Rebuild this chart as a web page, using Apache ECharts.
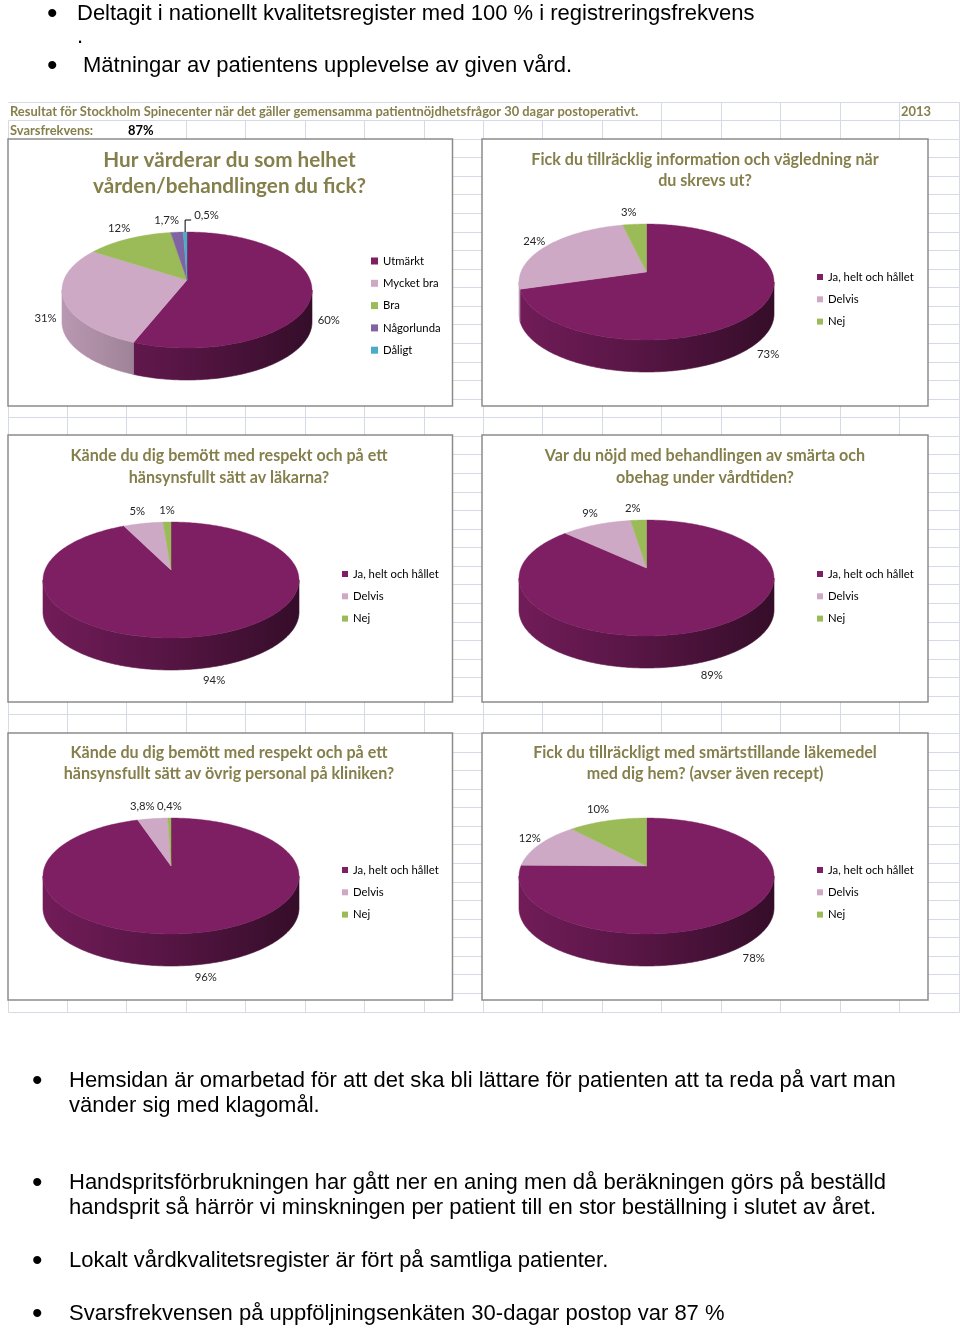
<!DOCTYPE html>
<html><head><meta charset="utf-8">
<script src="https://cdn.jsdelivr.net/npm/echarts@6/dist/echarts.min.js"></script>
<style>
html,body{margin:0;padding:0;background:#fff;width:960px;height:1326px;overflow:hidden}
#chart{position:absolute;left:0;top:0;width:960px;height:1326px}
.b{position:absolute;font-family:"Liberation Sans",Arial,sans-serif;font-size:22px;line-height:25px;color:#000;white-space:nowrap;z-index:10}
.d{font-size:30px}
</style></head><body>
<div id="chart"></div>
<div class="b d" style="left:47px;top:0px">•</div>
<div class="b" style="left:77px;top:0px">Deltagit i nationellt kvalitetsregister med 100 % i registreringsfrekvens</div>
<div class="b" style="left:77px;top:23px">.</div>
<div class="b d" style="left:47px;top:52px">•</div>
<div class="b" style="left:83px;top:52px">Mätningar av patientens upplevelse av given vård.</div>

<div class="b d" style="left:32px;top:1067px">•</div>
<div class="b" style="left:69px;top:1067px">Hemsidan är omarbetad för att det ska bli lättare för patienten att ta reda på vart man<br>vänder sig med klagomål.</div>
<div class="b d" style="left:32px;top:1169px">•</div>
<div class="b" style="left:69px;top:1169px">Handspritsförbrukningen har gått ner en aning men då beräkningen görs på beställd<br>handsprit så härrör vi minskningen per patient till en stor beställning i slutet av året.</div>
<div class="b d" style="left:32px;top:1247px">•</div>
<div class="b" style="left:69px;top:1247px">Lokalt vårdkvalitetsregister är fört på samtliga patienter.</div>
<div class="b d" style="left:32px;top:1300px">•</div>
<div class="b" style="left:69px;top:1300px">Svarsfrekvensen på uppföljningsenkäten 30-dagar postop var 87 %</div>

<script>
// ---------------- data ----------------
const headerText = 'Resultat för Stockholm Spinecenter när det gäller gemensamma patientnöjdhetsfrågor 30 dagar postoperativt.';
const yearText = '2013';
const responseLabel = 'Svarsfrekvens:';
const responseRate = '87%';

const titles = [
  'Hur värderar du som helhet\nvården/behandlingen du fick?',
  'Fick du tillräcklig information och vägledning när\ndu skrevs ut?',
  'Kände du dig bemött med respekt och på ett\nhänsynsfullt sätt av läkarna?',
  'Var du nöjd med behandlingen av smärta och\nobehag under vårdtiden?',
  'Kände du dig bemött med respekt och på ett\nhänsynsfullt sätt av övrig personal på kliniken?',
  'Fick du tillräckligt med smärtstillande läkemedel\nmed dig hem? (avser även recept)'
];
const ratingCats = ['Utmärkt', 'Mycket bra', 'Bra', 'Någorlunda', 'Dåligt'];
const yesNoCats = ['Ja, helt och hållet', 'Delvis', 'Nej'];
const q1Values = [60, 31, 12, 1.7, 0.5];
const q2Values = [73, 24, 3];
const q3Values = [94, 5, 1];
const q4Values = [89, 9, 2];
const q5Values = [96, 3.8, 0.4];
const q6Values = [78, 12, 10];

// ---------------- style / layout ----------------
const FONT = "Lato, 'Liberation Sans', sans-serif";
const OLIVE = '#857f4c';
const catColors = {
  'Utmärkt': '#7d1f62', 'Mycket bra': '#cda9c5', 'Bra': '#9bbb59', 'Någorlunda': '#8064a2', 'Dåligt': '#4bacc6',
  'Ja, helt och hållet': '#7d1f62', 'Delvis': '#cda9c5', 'Nej': '#9bbb59'
};
const RY = 58, DEPTH = 32, APEX = -10;
const panels = [
  {cats: ratingCats, values: q1Values, box: [8, 139, 452.5, 406], cx: 187, cy: 290, rx: 125, tx: 229.5, ty: 173, big: true, lx: 371, ly: 254.5, mk: 7, leader: 4},
  {cats: yesNoCats, values: q2Values, box: [482, 139, 928, 406], cx: 646.5, cy: 282, rx: 127.5, tx: 705, ty: 170.5, lx: 817, ly: 270.5, mk: 6},
  {cats: yesNoCats, values: q3Values, box: [8, 435, 452.5, 702], cx: 171, cy: 580, rx: 128, tx: 229, ty: 467, lx: 342, ly: 567.5, mk: 6},
  {cats: yesNoCats, values: q4Values, box: [482, 435, 928, 702], cx: 646.5, cy: 578, rx: 127.5, tx: 705, ty: 467, lx: 817, ly: 567.5, mk: 6},
  {cats: yesNoCats, values: q5Values, box: [8, 733, 452.5, 1000], cx: 171, cy: 876, rx: 128, tx: 229, ty: 763.5, lx: 342, ly: 863.5, mk: 6},
  {cats: yesNoCats, values: q6Values, box: [482, 733, 928, 1000], cx: 646.5, cy: 876, rx: 127.5, tx: 705, ty: 763.5, lx: 817, ly: 863.5, mk: 6}
];

const mctx = document.createElement('canvas').getContext('2d');
function fitSize(text, weight, target) {
  mctx.font = weight + ' 100px ' + FONT;
  return Math.round(1000 * target / mctx.measureText(text).width) / 10;
}
const bigTitleSize = fitSize('Hur värderar du som helhet', 'bold', 253);
const titleSize = fitSize('Fick du tillräcklig information och vägledning när', 'bold', 348);
const headerSize = fitSize(headerText, 'bold', 628);
const legendSize = fitSize('Ja, helt och hållet', 'normal', 86);

function shade(hex, f) {
  const n = parseInt(hex.slice(1), 16);
  return 'rgb(' + Math.round(((n >> 16) & 255) * f) + ',' + Math.round(((n >> 8) & 255) * f) + ',' + Math.round((n & 255) * f) + ')';
}
function txtStyle(o) {
  if (o.align) o.textAlign = o.align;
  if (o.verticalAlign) o.textVerticalAlign = o.verticalAlign;
  return o;
}

function makeRender(p, i) {
  return function (params, api) {
    const values = p.values;
    const total = values.reduce((s, v) => s + v, 0);
    let before = 0;
    for (let k = 0; k < i; k++) before += values[k];
    const v = api.value(0);
    const TAU = Math.PI * 2;
    const a0 = before / total * TAU, a1 = (before + v) / total * TAU;
    const P = (t, dy) => [p.cx + p.rx * Math.sin(t), p.cy - RY * Math.cos(t) + (dy || 0)];
    const arc = (s, e, dy) => {
      const n = Math.max(2, Math.ceil(Math.abs(e - s) / (Math.PI / 180)) + 1);
      const pts = [];
      for (let j = 0; j < n; j++) pts.push(P(s + (e - s) * j / (n - 1), dy));
      return pts;
    };
    const color = catColors[p.cats[i]];
    const children = [];
    const fa = Math.max(a0, Math.PI / 2), fb = Math.min(a1, Math.PI * 1.5);
    if (fb > fa) {
      const grad = new echarts.graphic.LinearGradient(p.cx - p.rx, 0, p.cx + p.rx, 0, [
        {offset: 0, color: shade(color, 0.9)},
        {offset: 0.5, color: shade(color, 0.68)},
        {offset: 1, color: shade(color, 0.42)}
      ], true);
      children.push({type: 'polygon', shape: {points: arc(fa, fb, 0).concat(arc(fb, fa, DEPTH))},
        style: {fill: grad, stroke: grad, lineWidth: 0.6}});
    }
    children.push({type: 'polygon', shape: {points: [[p.cx, p.cy + APEX]].concat(arc(a0, a1, 0))},
      style: {fill: color, stroke: color, lineWidth: 0.4}});

    const m = (a0 + a1) / 2, s = Math.sin(m), c = Math.cos(m);
    const txt = String(v).replace('.', ',') + '%';
    const ex = p.cx + p.rx * s, ey = p.cy - RY * c;
    if (p.leader === i) {
      children.push({type: 'polyline', shape: {points: [[ex, ey], [ex, ey - 12], [ex + 6, ey - 12]]},
        style: {stroke: '#000', lineWidth: 1, fill: 'none'}});
      children.push({type: 'text', x: ex + 9, y: ey - 17,
        style: txtStyle({text: txt, fill: '#262626', fontSize: legendSize, fontFamily: FONT, align: 'left', verticalAlign: 'middle'})});
    } else {
      const front = Math.max(0, -c);
      let lx;
      if (s > 0.05) lx = ex + 4 + 22 * front * s;
      else if (s < -0.05) lx = ex + (c < 0 ? -8 : 2);
      else lx = ex;
      const ly = p.cy - (RY + 12) * c + DEPTH * Math.sqrt(front);
      const align = s > 0.05 ? 'left' : (s < -0.05 ? 'right' : 'center');
      children.push({type: 'text', x: lx, y: ly,
        style: txtStyle({text: txt, fill: '#262626', fontSize: legendSize, fontFamily: FONT, align: align, verticalAlign: 'middle'})});
    }
    return {type: 'group', children: children};
  };
}

// ---------------- graphic: sheet grid, panels, texts ----------------
const graphics = [];
const GRID = '#d5dae4';
const colX = [], rowY = [];
for (let k = 0; k <= 16; k++) colX.push(Math.round(7.5 + k * 59.44) + 0.5);
for (let k = 0; k <= 49; k++) rowY.push(Math.round(101.6 + k * 18.57) + 0.5);
rowY.forEach(y => graphics.push({type: 'line', z: 0, silent: true, shape: {x1: colX[0], y1: y, x2: colX[16], y2: y}, style: {stroke: GRID, lineWidth: 1}}));
colX.forEach(x => {
  if (x > 645) graphics.push({type: 'line', z: 0, silent: true, shape: {x1: x, y1: rowY[0], x2: x, y2: rowY[1]}, style: {stroke: GRID, lineWidth: 1}});
  if (x > 150 || x < 10) graphics.push({type: 'line', z: 0, silent: true, shape: {x1: x, y1: rowY[1], x2: x, y2: rowY[2]}, style: {stroke: GRID, lineWidth: 1}});
  graphics.push({type: 'line', z: 0, silent: true, shape: {x1: x, y1: rowY[2], x2: x, y2: rowY[49]}, style: {stroke: GRID, lineWidth: 1}});
});
graphics.push({type: 'text', z: 3, x: 10, y: 112, style: txtStyle({text: headerText, fill: OLIVE, fontSize: headerSize, fontWeight: 'bold', fontFamily: FONT, align: 'left', verticalAlign: 'middle'})});
graphics.push({type: 'text', z: 3, x: 901, y: 112, style: txtStyle({text: yearText, fill: OLIVE, fontSize: headerSize, fontWeight: 'bold', fontFamily: FONT, align: 'left', verticalAlign: 'middle'})});
graphics.push({type: 'text', z: 3, x: 10, y: 131, style: txtStyle({text: responseLabel, fill: OLIVE, fontSize: headerSize, fontWeight: 'bold', fontFamily: FONT, align: 'left', verticalAlign: 'middle'})});
graphics.push({type: 'text', z: 3, x: 128, y: 131, style: txtStyle({text: responseRate, fill: '#000', fontSize: headerSize, fontWeight: 'bold', fontFamily: FONT, align: 'left', verticalAlign: 'middle'})});

panels.forEach((p, pi) => {
  const b = p.box;
  graphics.push({type: 'rect', z: 1, silent: true, shape: {x: b[0], y: b[1], width: b[2] - b[0], height: b[3] - b[1]},
    style: {fill: '#fff', stroke: '#8c8c8c', lineWidth: 1.5}});
  graphics.push({type: 'text', z: 3, x: p.tx, y: p.ty, style: txtStyle({text: titles[pi], fill: OLIVE,
    fontSize: p.big ? bigTitleSize : titleSize, lineHeight: p.big ? 26 : 21.5, fontWeight: 'bold', fontFamily: FONT,
    align: 'center', verticalAlign: 'middle'})});
});

// ---------------- series + legends ----------------
const series = [];
const legends = [];
panels.forEach((p) => {
  p.cats.forEach((name, i) => {
    series.push({
      type: 'custom', name: name, coordinateSystem: 'none', z: 5, silent: true,
      itemStyle: {color: catColors[name]},
      data: [p.values[i]],
      renderItem: makeRender(p, i)
    });
  });
  legends.push({
    data: p.cats.map(n => ({name: n, icon: 'rect'})),
    orient: 'vertical', left: p.lx, top: p.ly, padding: 0,
    itemWidth: p.mk, itemHeight: p.mk, itemGap: 9.3, selectedMode: false, z: 6,
    textStyle: {fontSize: legendSize, fontFamily: FONT, color: '#000', lineHeight: 13}
  });
});

const chart = echarts.init(document.getElementById('chart'));
chart.setOption({
  backgroundColor: '#fff',
  animation: false,
  graphic: {elements: graphics},
  legend: legends,
  series: series
});
</script>
</body></html>
